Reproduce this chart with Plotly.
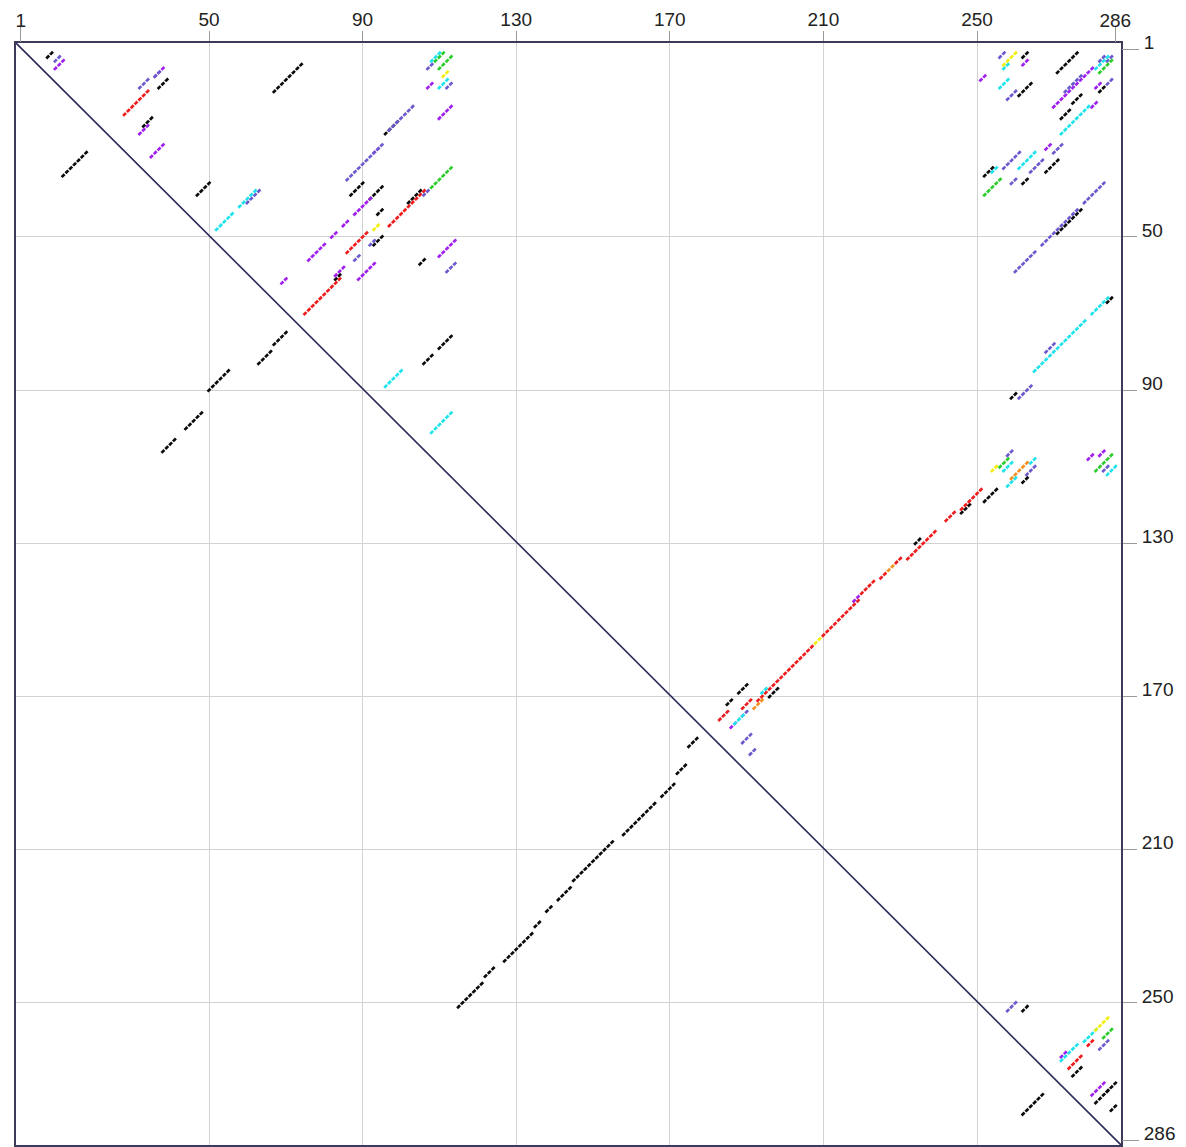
import plotly.graph_objects as go

# ---------------- data: helices given as (row i, column j, stacked pairs n) ----------------
# each helix contains the pairs (i+k, j-k), k = 0..n-1 ; x = column, y = row
black_upper = [
    (2, 9, 2), (9, 39, 3), (19, 35, 3), (36, 50, 4), (5, 74, 8), (20, 99, 4),
    (36, 90, 4), (37, 95, 4), (38, 105, 4), (43, 95, 2), (50, 95, 3), (60, 84, 2),
    (56, 106, 2), (76, 113, 4), (81, 108, 3),
    (2, 263, 2), (10, 264, 4), (2, 276, 6), (13, 277, 3), (17, 274, 3), (11, 283, 2),
    (32, 254, 3), (30, 271, 4), (35, 263, 2), (43, 277, 7), (66, 285, 2), (91, 260, 2),
    (113, 263, 2), (116, 255, 4), (120, 248, 3), (129, 235, 2),
    (167, 190, 3), (171, 186, 2), (168, 198, 3),
    (251, 263, 2), (267, 277, 3), (271, 286, 3), (273, 284, 4), (277, 286, 2),
]
black_lower = [
    (28, 18, 7), (75, 70, 4), (80, 66, 4), (85, 55, 6), (96, 48, 5), (103, 41, 4),
    (181, 177, 3), (188, 174, 3), (193, 171, 4), (198, 166, 9), (208, 155, 11),
    (220, 144, 4), (225, 139, 2), (229, 136, 2), (232, 134, 8), (241, 124, 3),
    (245, 121, 7), (274, 267, 4), (278, 263, 2),
]
red = [
    (12, 34, 7), (38, 106, 5), (43, 101, 5), (49, 91, 6), (61, 84, 10),
    (116, 251, 6), (122, 244, 3), (127, 239, 8), (134, 230, 2), (138, 226, 2),
    (140, 223, 4), (145, 219, 10), (157, 207, 15), (171, 191, 3), (174, 185, 3),
    (260, 280, 2), (264, 277, 4),
]
purple = [
    (4, 12, 3), (6, 38, 3), (21, 34, 3), (26, 38, 4), (10, 108, 2), (16, 113, 4),
    (27, 94, 2), (40, 92, 5), (46, 86, 2), (49, 83, 2), (52, 80, 5), (61, 70, 2),
    (57, 93, 5), (58, 85, 3), (51, 114, 5),
    (4, 263, 2), (8, 252, 2), (6, 280, 11), (15, 281, 2), (10, 282, 2), (26, 269, 2),
    (106, 283, 2), (107, 280, 2), (144, 219, 2), (177, 187, 2),
    (263, 273, 2), (271, 283, 4),
]
slate = [
    (3, 11, 2), (9, 34, 3), (7, 37, 2), (38, 63, 4), (26, 95, 10), (16, 103, 7),
    (38, 107, 2), (51, 93, 2), (55, 89, 2), (57, 114, 3), (5, 108, 2), (10, 113, 2),
    (2, 257, 2), (12, 260, 3), (3, 283, 2), (3, 285, 2), (8, 277, 5), (9, 285, 2),
    (26, 272, 3), (28, 261, 5), (30, 267, 4), (35, 260, 2),
    (36, 283, 6), (43, 276, 4), (47, 272, 6), (54, 265, 6),
    (78, 270, 3), (89, 264, 4), (106, 259, 2), (110, 265, 3), (110, 284, 2),
    (174, 190, 2), (180, 191, 3), (184, 192, 2), (250, 260, 3), (260, 284, 3),
]
cyan = [
    (38, 62, 5), (44, 56, 5), (2, 110, 3), (9, 112, 3), (85, 100, 5), (96, 113, 6),
    (5, 258, 2), (9, 258, 3), (3, 284, 4), (16, 279, 8), (28, 265, 5), (32, 255, 2),
    (66, 284, 5), (72, 278, 7), (79, 271, 7), (108, 265, 2), (109, 259, 3),
    (113, 260, 3), (110, 286, 3), (168, 195, 2), (175, 189, 3),
    (257, 281, 4), (261, 276, 5),
]
green = [
    (2, 111, 3), (3, 113, 4), (32, 113, 6), (4, 285, 4), (35, 256, 5),
    (108, 258, 3), (107, 285, 5), (257, 285, 3),
]
yellow = [(7, 112, 2), (47, 94, 2), (2, 260, 4), (110, 255, 2), (155, 209, 2), (254, 284, 4)]
orange = [(109, 263, 5), (136, 228, 2), (171, 194, 3)]

major_ticks = [50, 90, 130, 170, 210, 250]
end_ticks = [1, 286]

groups = [
    (black_lower, "#0a0a0a"),
    (black_upper, "#0a0a0a"),
    (red, "#ee1c1c"),
    (purple, "#a020f0"),
    (slate, "#6a5acd"),
    (cyan, "#1ee3ec"),
    (green, "#2ccd2c"),
    (yellow, "#f2ee10"),
    (orange, "#f39020"),
]


def expand(stems):
    xs, ys = [], []
    for i, j, n in stems:
        for k in range(n):
            ys.append(i + k)
            xs.append(j - k)
    return xs, ys


fig = go.Figure()
for stems, col in groups:
    xs, ys = expand(stems)
    fig.add_trace(go.Scatter(
        x=xs, y=ys, mode="markers", showlegend=False, hoverinfo="x+y",
        marker=dict(symbol="line-ne", size=2.9, line=dict(width=2.7, color=col)),
    ))

# empty traces so the overlay axes (end ticks 1 / 286) are drawn
fig.add_trace(go.Scatter(x=[], y=[], xaxis="x2", yaxis="y", showlegend=False))
fig.add_trace(go.Scatter(x=[], y=[], xaxis="x", yaxis="y2", showlegend=False))

XR = [-0.26, 287.5]
YR = [287.1, -0.65]
font = dict(family="Liberation Sans, Arial, sans-serif", size=19, color="#222222")
frame = "#3c3c5a"

fig.update_layout(
    width=1186, height=1147,
    margin=dict(l=16, r=65, t=43, b=0),
    paper_bgcolor="white", plot_bgcolor="white",
    font=font,
    xaxis=dict(
        side="top", range=XR, tickmode="array", tickvals=major_ticks,
        ticktext=[str(v) for v in major_ticks],
        ticks="outside", ticklen=10, tickcolor="#999999", tickwidth=1,
        showgrid=True, gridcolor="#d2d2d2", gridwidth=1, zeroline=False,
        showline=True, linecolor=frame, linewidth=2, mirror=True, tickfont=font,
        ticklabelstandoff=-3,
    ),
    xaxis2=dict(
        side="top", overlaying="x", range=XR, tickmode="array", tickvals=end_ticks,
        ticktext=[str(v) for v in end_ticks],
        ticks="outside", ticklen=16, tickcolor="#999999", tickwidth=1,
        showgrid=False, zeroline=False, showline=False, tickfont=font,
        ticklabelstandoff=-9,
    ),
    yaxis=dict(
        side="right", range=YR, tickmode="array", tickvals=major_ticks,
        ticktext=[str(v) for v in major_ticks],
        ticks="outside", ticklen=14, tickcolor="#999999", tickwidth=1,
        showgrid=True, gridcolor="#d2d2d2", gridwidth=1, zeroline=False,
        showline=True, linecolor=frame, linewidth=2, mirror=True, tickfont=font,
        ticklabelshift=7, ticklabelstandoff=1,
    ),
    yaxis2=dict(
        side="right", overlaying="y", range=YR, tickmode="array", tickvals=end_ticks,
        ticktext=[str(v) for v in end_ticks],
        ticks="outside", ticklen=17, tickcolor="#999999", tickwidth=1,
        showgrid=False, zeroline=False, showline=False, tickfont=font,
        ticklabelshift=7, ticklabelstandoff=1,
    ),
    shapes=[dict(type="line", xref="x", yref="y", x0=XR[0], y0=YR[1], x1=XR[1], y1=YR[0],
                 line=dict(color="#2a2a58", width=1.6))],
)

fig.write_html("out.html")
